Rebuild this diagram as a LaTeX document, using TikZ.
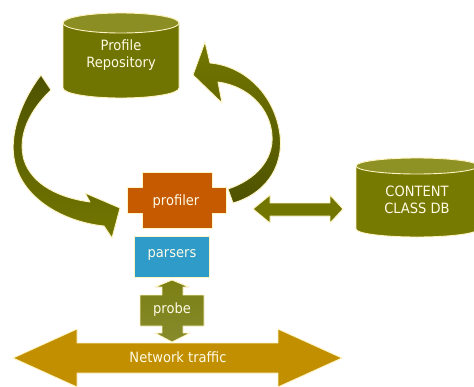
\documentclass[tikz,border=0pt]{standalone}
\usepackage{fontspec}
\setmainfont{DejaVu Sans}[FakeStretch=0.92]
\definecolor{rimc}{HTML}{FFF4C4}
\definecolor{txt}{HTML}{FFFBE6}
\definecolor{olbody}{HTML}{707400}
\definecolor{oltop}{HTML}{8B8E22}
\definecolor{olbody2}{HTML}{777A00}
\definecolor{oltop2}{HTML}{8E9124}
\definecolor{orng}{HTML}{C55A00}
\definecolor{blu}{HTML}{2E9BC9}
\definecolor{probec}{HTML}{7B7F13}
\definecolor{probel}{HTML}{878B2C}
\definecolor{netc}{HTML}{C18F00}
\definecolor{dblc}{HTML}{727600}
\definecolor{darkol}{HTML}{4E5200}
\definecolor{midol}{HTML}{737700}
\begin{document}
\begin{tikzpicture}[x=1pt,y=-1pt,
  rim/.style={draw=rimc,line width=0.9pt,line join=round},
  lbl/.style={text=txt,font=\fontsize{14.2}{17}\selectfont,inner sep=0pt,align=center}]
\useasboundingbox (0,0) rectangle (474,386);
\clip (0,0) rectangle (474,386);
\fill[white] (0,0) rectangle (474,386);

% left curved arrow (repository -> profiler)
\path[rim,top color=darkol,bottom color=midol]
  (41,75) .. controls (22,100) and (8,135) .. (15,163)
  .. controls (24,200) and (65,222) .. (104,226)
  -- (112,238) -- (120,208) -- (85,193) -- (90,202)
  .. controls (60,198) and (32,185) .. (24,160)
  .. controls (17,135) and (30,110) .. (51,90)
  -- cycle;

% right curved arrow (profiler -> repository)
\path[rim,top color=midol,bottom color=darkol]
  (205,42) -- (210,63)
  .. controls (245,66) and (275,95) .. (280,135)
  .. controls (284,170) and (262,195) .. (233,203)
  -- (228,189)
  .. controls (255,180) and (274,160) .. (272,135)
  .. controls (270,108) and (248,86) .. (218,82)
  -- (222,103) -- (193,75) -- cycle;

% Profile Repository cylinder
\path[rim,fill=olbody] (63,23) -- (63,88)
  arc[start angle=180,end angle=360,x radius=58pt,y radius=10pt]
  -- (179,23) arc[start angle=0,end angle=180,x radius=58pt,y radius=10pt] -- cycle;
\path[rim,fill=oltop] (121,23) ellipse[x radius=58pt,y radius=10pt];
\node[lbl] (repo) at (121,55) {Profile\\Repository};

% CONTENT CLASS DB cylinder
\path[rim,fill=olbody2] (356,166) -- (356,229)
  arc[start angle=180,end angle=360,x radius=61pt,y radius=8pt]
  -- (478,166) arc[start angle=0,end angle=180,x radius=61pt,y radius=8pt] -- cycle;
\path[rim,fill=oltop2] (417,166) ellipse[x radius=61pt,y radius=8pt];
\node[lbl] (cdb) at (417,199.5) {CONTENT\\CLASS DB};

% double arrow profiler <-> content class db
\path[rim,fill=dblc] (253,209) -- (270,195) -- (270,203) -- (330,203) -- (330,195)
  -- (343,209) -- (330,223) -- (330,216) -- (270,216) -- (270,223) -- cycle;

% profiler
\path[rim,fill=orng] (142,172) -- (212,172) -- (212,187) -- (226,187) -- (226,213)
  -- (212,213) -- (212,228) -- (142,228) -- (142,213) -- (127,213) -- (127,187)
  -- (142,187) -- cycle;
\node[lbl,anchor=base] (prof) at (176,205) {profiler};

% parsers
\path[rim,fill=blu] (134,236) rectangle (209,277);
\node[lbl,anchor=base] (pars) at (172,257) {parsers};

% network traffic
\path[rim,fill=netc] (13,358) -- (77,329) -- (77,343) -- (278,343) -- (278,329)
  -- (342,358) -- (278,387) -- (278,373) -- (77,373) -- (77,387) -- cycle;
\node[lbl,anchor=base] (net) at (178,362) {Network traffic};

% probe
\path[rim,top color=probec,bottom color=probel] (140,295) -- (162,295) -- (162,287) -- (155,287)
  -- (172,280) -- (189,287) -- (183,287) -- (183,295) -- (204,295) -- (204,326)
  -- (183,326) -- (183,333) -- (190,333) -- (172,342) -- (155,333) -- (162,333)
  -- (162,326) -- (140,326) -- cycle;
\node[lbl,anchor=base] (probe) at (172,313) {probe};
\end{tikzpicture}
\end{document}
